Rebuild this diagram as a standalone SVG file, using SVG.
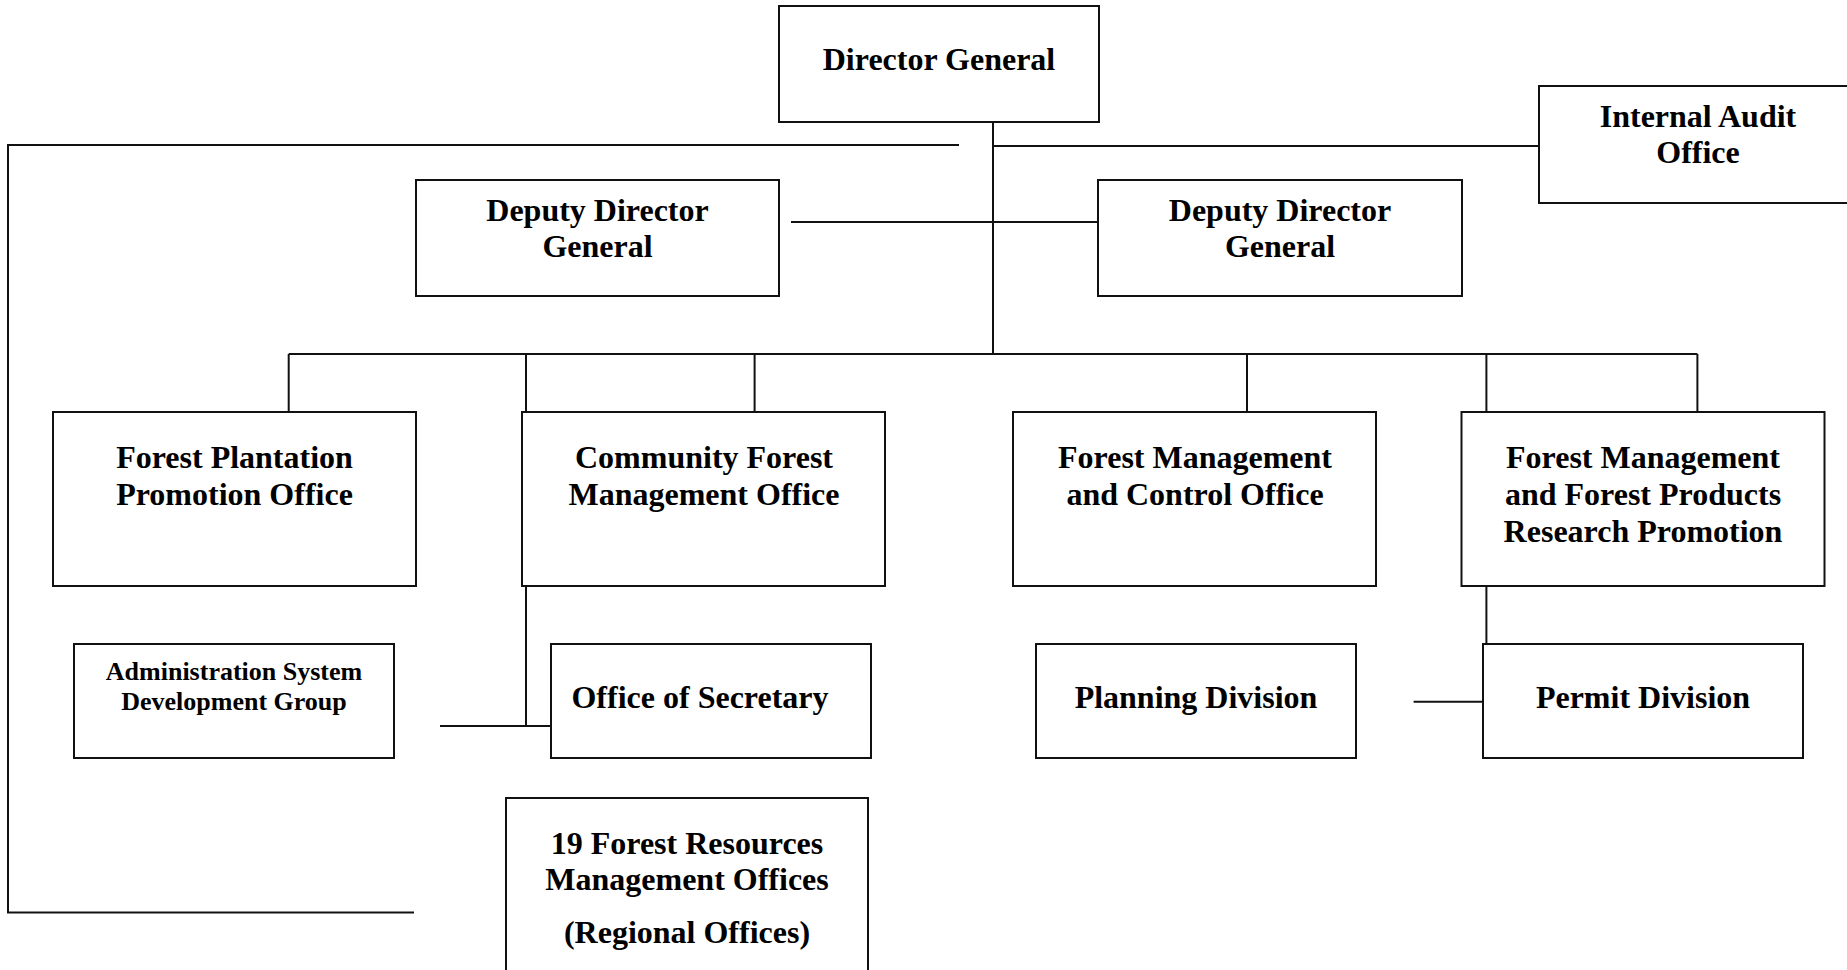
<svg xmlns="http://www.w3.org/2000/svg" width="1847" height="970" viewBox="0 0 1847 970">
  <style>
    .box { fill: #fff; stroke: #111; stroke-width: 2; }
    .lbl { font-family: "Liberation Serif", "Times New Roman", serif; font-weight: bold; font-size: 32px; fill: #000; text-anchor: middle; }
    .sm { font-size: 26px; }
    .wire { fill: none; stroke: #111; stroke-width: 2; }
  </style>
  <rect width="1847" height="970" fill="#fff"/>

  <!-- reporting lines -->
  <g id="connectors">
    <path class="wire" d="M993,122 V354"/>
    <path class="wire" d="M959,145 H8 V912.5 H414"/>
    <path class="wire" d="M993,146 H1539"/>
    <path class="wire" d="M791,222 H1098"/>
    <path class="wire" d="M288.7,354 H1697.4"/>
    <path class="wire" d="M288.7,354 V412"/>
    <path class="wire" d="M526,354 V412"/>
    <path class="wire" d="M754.6,354 V412"/>
    <path class="wire" d="M1247,354 V412"/>
    <path class="wire" d="M1486.4,354 V412"/>
    <path class="wire" d="M1697.4,354 V412"/>
    <path class="wire" d="M526,586 V726"/>
    <path class="wire" d="M440,726 H551"/>
    <path class="wire" d="M1486.4,586 V644"/>
    <path class="wire" d="M1413.6,701.7 H1483"/>
  </g>

  <g id="director-general">
    <rect class="box" x="779" y="6" width="320" height="116"/>
    <text class="lbl" x="939" y="70">Director General</text>
  </g>

  <g id="internal-audit">
    <rect class="box" x="1539" y="86" width="330" height="117"/>
    <text class="lbl" x="1698" y="127">Internal Audit</text>
    <text class="lbl" x="1698" y="163">Office</text>
  </g>

  <g id="deputy-left">
    <rect class="box" x="416" y="180" width="363" height="116"/>
    <text class="lbl" x="597.5" y="221">Deputy Director</text>
    <text class="lbl" x="597.5" y="257">General</text>
  </g>

  <g id="deputy-right">
    <rect class="box" x="1098" y="180" width="364" height="116"/>
    <text class="lbl" x="1280" y="221">Deputy Director</text>
    <text class="lbl" x="1280" y="257">General</text>
  </g>

  <g id="plantation-office">
    <rect class="box" x="53" y="412" width="363" height="174"/>
    <text class="lbl" x="234.5" y="468">Forest Plantation</text>
    <text class="lbl" x="234.5" y="505">Promotion Office</text>
  </g>

  <g id="community-office">
    <rect class="box" x="522" y="412" width="363" height="174"/>
    <text class="lbl" x="704" y="468">Community Forest</text>
    <text class="lbl" x="704" y="505">Management Office</text>
  </g>

  <g id="control-office">
    <rect class="box" x="1013" y="412" width="363" height="174"/>
    <text class="lbl" x="1195" y="468">Forest Management</text>
    <text class="lbl" x="1195" y="505">and Control Office</text>
  </g>

  <g id="research-office">
    <rect class="box" x="1461.5" y="412" width="363" height="174"/>
    <text class="lbl" x="1643" y="468">Forest Management</text>
    <text class="lbl" x="1643" y="505">and Forest Products</text>
    <text class="lbl" x="1643" y="542">Research Promotion</text>
  </g>

  <g id="admin-group">
    <rect class="box" x="74" y="644" width="320" height="114"/>
    <text class="lbl sm" x="234" y="680">Administration System</text>
    <text class="lbl sm" x="234" y="710">Development Group</text>
  </g>

  <g id="secretary">
    <rect class="box" x="551" y="644" width="320" height="114"/>
    <text class="lbl" x="700" y="708">Office of Secretary</text>
  </g>

  <g id="planning">
    <rect class="box" x="1036" y="644" width="320" height="114"/>
    <text class="lbl" x="1196" y="708">Planning Division</text>
  </g>

  <g id="permit">
    <rect class="box" x="1483" y="644" width="320" height="114"/>
    <text class="lbl" x="1643" y="708">Permit Division</text>
  </g>

  <g id="regional-offices">
    <rect class="box" x="506" y="798" width="362" height="190"/>
    <text class="lbl" x="687" y="854">19 Forest Resources</text>
    <text class="lbl" x="687" y="890">Management Offices</text>
    <text class="lbl" x="687" y="943">(Regional Offices)</text>
  </g>
</svg>
